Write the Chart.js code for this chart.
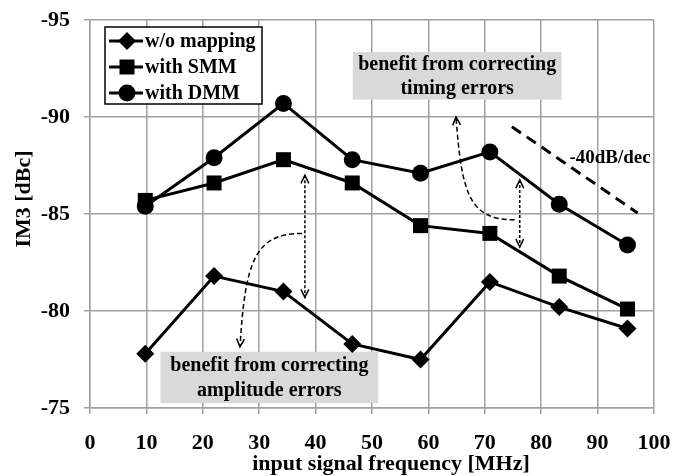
<!DOCTYPE html>
<html>
<head>
<meta charset="utf-8">
<script src="https://cdn.jsdelivr.net/npm/chart.js@4/dist/chart.umd.min.js"></script>
<style>
  html, body { margin: 0; padding: 0; background: #fff; }
  #wrap { width: 674px; height: 476px; }
</style>
</head>
<body>
<div id="wrap"><canvas id="im3Chart" width="674" height="476"></canvas></div>
<script>
const freqs = [9.8, 22, 34.3, 46.5, 58.6, 70.9, 83.2, 95.3];
const woMapping = [-77.8, -81.8, -81.0, -78.3, -77.5, -81.5, -80.2, -79.1];
const withSMM = [-85.7, -86.6, -87.8, -86.6, -84.4, -84.0, -81.8, -80.1];
const withDMM = [-85.4, -87.9, -90.7, -87.8, -87.1, -88.2, -85.5, -83.4];
const seriesNames = ["w/o mapping", "with SMM", "with DMM"];
const seriesMarkers = ["rectRot", "rect", "circle"];
const slopeX = [74.8, 97.1];
const slopeY = [-89.5, -85.05];
const xTicks = [0, 10, 20, 30, 40, 50, 60, 70, 80, 90, 100];
const yTicks = [-95, -90, -85, -80, -75];

const FONT = "'Liberation Serif', 'Times New Roman', serif";
const GRID = "#a0a0a0";

function toPoints(xs, ys) {
  return xs.map((v, i) => ({ x: v, y: ys[i] }));
}

function drawMarker(ctx, style, x, y) {
  ctx.beginPath();
  if (style === "rectRot") {
    const r = 9;
    ctx.moveTo(x - r, y); ctx.lineTo(x, y - r); ctx.lineTo(x + r, y); ctx.lineTo(x, y + r);
    ctx.closePath();
  } else if (style === "rect") {
    ctx.rect(x - 7.5, y - 7.5, 15, 15);
  } else {
    ctx.arc(x, y, 8.5, 0, Math.PI * 2);
  }
  ctx.fill();
}

function arrowHead(ctx, x, y, angle) {
  const len = 9, spread = 0.45;
  ctx.beginPath();
  ctx.moveTo(x - len * Math.cos(angle - spread), y - len * Math.sin(angle - spread));
  ctx.lineTo(x, y);
  ctx.lineTo(x - len * Math.cos(angle + spread), y - len * Math.sin(angle + spread));
  ctx.stroke();
}

// double-headed dotted arrow, data coords
function doubleArrow(ctx, sx, sy, xv, y1, y2) {
  const px = sx.getPixelForValue(xv);
  const a = sy.getPixelForValue(y1), b = sy.getPixelForValue(y2);
  ctx.save();
  ctx.strokeStyle = "#000";
  ctx.lineWidth = 1.5;
  ctx.setLineDash([3, 2]);
  ctx.beginPath(); ctx.moveTo(px, a); ctx.lineTo(px, b); ctx.stroke();
  ctx.setLineDash([]);
  arrowHead(ctx, px, a, -Math.PI / 2);
  arrowHead(ctx, px, b, Math.PI / 2);
  ctx.restore();
}

// dashed curved pointer, data coords (cubic bezier)
function curveArrow(ctx, sx, sy, pts) {
  const p = pts.map(q => [sx.getPixelForValue(q[0]), sy.getPixelForValue(q[1])]);
  ctx.save();
  ctx.strokeStyle = "#000";
  ctx.lineWidth = 1.5;
  ctx.setLineDash([5, 3]);
  ctx.beginPath();
  ctx.moveTo(p[0][0], p[0][1]);
  ctx.bezierCurveTo(p[1][0], p[1][1], p[2][0], p[2][1], p[3][0], p[3][1]);
  ctx.stroke();
  ctx.setLineDash([]);
  const ang = Math.atan2(p[3][1] - p[2][1], p[3][0] - p[2][0]);
  arrowHead(ctx, p[3][0], p[3][1], ang);
  ctx.restore();
}

function textBox(ctx, sx, sy, x1, y1, x2, y2, lines) {
  const l = sx.getPixelForValue(x1), r = sx.getPixelForValue(x2);
  const t = sy.getPixelForValue(y1), b = sy.getPixelForValue(y2);
  ctx.save();
  ctx.fillStyle = "#d9d9d9";
  ctx.fillRect(l, t, r - l, b - t);
  ctx.fillStyle = "#000";
  ctx.font = "bold 20px " + FONT;
  ctx.textAlign = "center";
  ctx.textBaseline = "middle";
  const cx = (l + r) / 2, step = (b - t) / lines.length;
  lines.forEach((s, i) => ctx.fillText(s, cx, t + step * (i + 0.5) + 1));
  ctx.restore();
}

const annotations = {
  id: "annotations",
  beforeDatasetsDraw(chart) {
    const { ctx, scales: { x, y } } = chart;
    textBox(ctx, x, y, 46.6, -93.35, 83.6, -90.9, ["benefit from correcting", "timing errors"]);
    textBox(ctx, x, y, 12.5, -77.9, 51.1, -75.25, ["benefit from correcting", "amplitude errors"]);
  },
  afterDatasetsDraw(chart) {
    const { ctx, chartArea, scales: { x, y } } = chart;
    doubleArrow(ctx, x, y, 38.1, -87.0, -80.7);
    doubleArrow(ctx, x, y, 76.2, -86.75, -83.3);
    curveArrow(ctx, x, y, [[37.6, -84.0], [29.3, -84.0], [27.5, -82.6], [26.6, -78.15]]);
    curveArrow(ctx, x, y, [[75.3, -84.7], [67.3, -84.7], [65.9, -86.0], [64.9, -90.0]]);

    ctx.save();
    ctx.fillStyle = "#000";
    ctx.font = "bold 19px " + FONT;
    ctx.textAlign = "left";
    ctx.textBaseline = "middle";
    ctx.fillText("-40dB/dec", x.getPixelForValue(85.0), y.getPixelForValue(-87.9));

    // legend box
    const lx = chartArea.left + 15, ly = chartArea.top + 7;
    ctx.fillStyle = "#fff";
    ctx.fillRect(lx, ly, 157, 77);
    ctx.strokeStyle = "#000";
    ctx.lineWidth = 1.5;
    ctx.strokeRect(lx, ly, 157, 77);
    ctx.font = "bold 20px " + FONT;
    seriesNames.forEach((name, i) => {
      const ry = ly + 14 + i * 26;
      ctx.lineWidth = 3;
      ctx.beginPath(); ctx.moveTo(lx + 4, ry); ctx.lineTo(lx + 38, ry); ctx.stroke();
      ctx.fillStyle = "#000";
      drawMarker(ctx, seriesMarkers[i], lx + 22, ry);
      ctx.fillText(name, lx + 40, ry + 1);
    });

    // axis titles
    ctx.font = "bold 22px " + FONT;
    ctx.textAlign = "center";
    ctx.fillText("input signal frequency [MHz]", 391, 464);
    ctx.translate(24, 199);
    ctx.rotate(-Math.PI / 2);
    ctx.fillText("IM3 [dBc]", 0, 0);
    ctx.restore();
  }
};

const tickFont = { family: FONT, weight: "bold", size: 22 };

const ctx = document.getElementById("im3Chart").getContext("2d");
new Chart(ctx, {
  type: "line",
  data: {
    datasets: [
      { label: seriesNames[0], data: toPoints(freqs, woMapping), pointStyle: seriesMarkers[0], pointRadius: 9 },
      { label: seriesNames[1], data: toPoints(freqs, withSMM), pointStyle: seriesMarkers[1], pointRadius: 10.6 },
      { label: seriesNames[2], data: toPoints(freqs, withDMM), pointStyle: seriesMarkers[2], pointRadius: 8.5 },
      { label: "slope", data: toPoints(slopeX, slopeY), pointRadius: 0, borderDash: [11, 7], borderWidth: 3 }
    ].map(d => Object.assign({
      borderColor: "#000",
      backgroundColor: "#000",
      pointBackgroundColor: "#000",
      pointBorderColor: "#000",
      pointBorderWidth: 0,
      borderWidth: 3,
      tension: 0
    }, d))
  },
  options: {
    responsive: false,
    animation: false,
    layout: { padding: { top: 20, right: 20, left: 0, bottom: 0 } },
    plugins: { legend: { display: false }, tooltip: { enabled: false } },
    scales: {
      x: {
        type: "linear",
        min: 0, max: 100,
        afterBuildTicks: s => { s.ticks = xTicks.map(v => ({ value: v })); },
        afterFit: s => { s.height = 68; s.paddingLeft = 0; s.paddingRight = 0; },
        ticks: { color: "#000", font: tickFont, padding: 16, maxRotation: 0 },
        grid: { color: GRID, lineWidth: 1.5, tickLength: 6 },
        border: { color: GRID, width: 1.5 }
      },
      y: {
        type: "linear",
        min: -95, max: -75,
        reverse: true,
        afterBuildTicks: s => { s.ticks = yTicks.map(v => ({ value: v })); },
        afterFit: s => { s.width = 90; s.paddingTop = 0; s.paddingBottom = 0; },
        ticks: { color: "#000", font: tickFont, padding: 14 },
        grid: { color: GRID, lineWidth: 1.5, tickLength: 6 },
        border: { color: GRID, width: 1.5 }
      }
    }
  },
  plugins: [annotations]
});
</script>
</body>
</html>
